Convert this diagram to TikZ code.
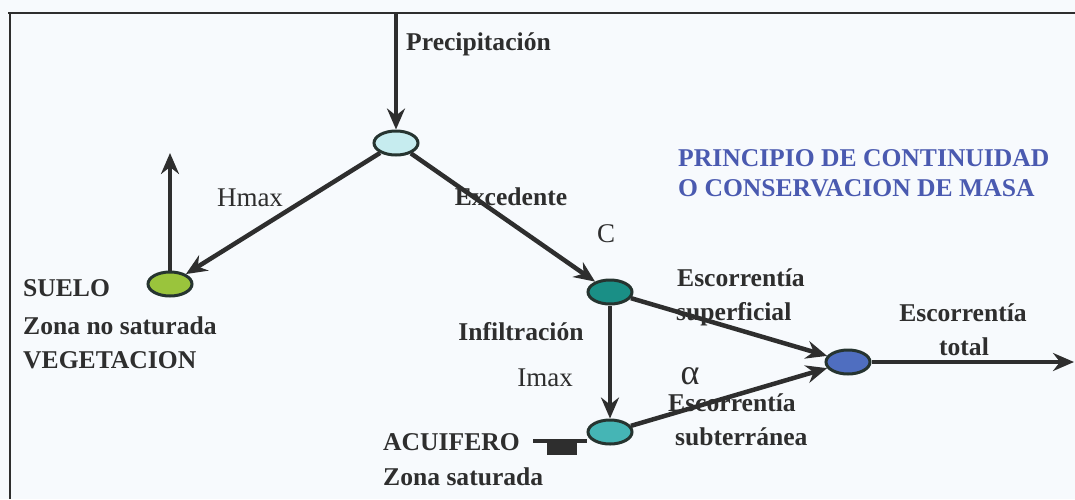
\documentclass[tikz,border=0pt]{standalone}
\usepackage{fontspec}
\setmainfont{Liberation Serif}
\usetikzlibrary{shapes.geometric,arrows.meta}
\definecolor{bgc}{HTML}{F7FAFD}
\definecolor{ink}{HTML}{2E2E2E}
\definecolor{edge}{HTML}{263430}
\definecolor{cPrec}{HTML}{C6ECEF}
\definecolor{cSuelo}{HTML}{9AC43C}
\definecolor{cC}{HTML}{1A8F86}
\definecolor{cAcu}{HTML}{45B5B5}
\definecolor{cTot}{HTML}{4F6EC0}
\definecolor{cBlue}{HTML}{4A5AB0}
\tikzset{
  x=1pt, y=-1pt,
  nodo/.style={ellipse, draw=edge, line width=3pt, minimum width=44pt, minimum height=24pt, inner sep=0pt},
  flujo/.style={draw=ink, line width=4.5pt, -{Stealth[length=21pt,width=18pt,inset=7pt]}},
  etq/.style={font=\fontsize{25.6}{30}\selectfont\bfseries, text=ink, inner sep=0pt},
  etqn/.style={font=\fontsize{27}{32}\selectfont, text=ink, inner sep=0pt},
  azul/.style={font=\fontsize{25.6}{30}\selectfont\bfseries, text=cBlue, inner sep=0pt},
}
\begin{document}
\begin{tikzpicture}
\fill[bgc] (0,0) rectangle (1075,499);
\useasboundingbox (0,0) rectangle (1075,499);
% frame
\draw[ink, line width=2.5pt] (8,13) -- (1075,13);
\draw[ink, line width=2.5pt] (10,13) -- (10,499);
% nodes
\node[nodo, fill=cPrec] (prec) at (396,143) {};
\node[nodo, fill=cSuelo] (suelo) at (170,284) {};
\node[nodo, fill=cC] (c) at (610,292) {};
\node[nodo, fill=cAcu] (acu) at (610,432) {};
\node[nodo, fill=cTot] (tot) at (848,362) {};
\coordinate (top) at (396,13);
\coordinate (evap) at (170,153);
\coordinate (out) at (1074,362);
\coordinate (bar) at (533,441);
% connectors
\draw[flujo] (top) -- (prec.north);
\draw[flujo] (prec) -- (suelo);
\draw[flujo] (suelo.north) -- (evap);
\draw[flujo] (prec) -- (c);
\draw[flujo] (c) -- (acu);
\draw[flujo] (c) -- (tot);
\draw[flujo] (acu) -- (tot);
\draw[flujo] (tot.east) -- (out);
\draw[ink, line width=4pt] (bar) -- (acu.west |- bar);
\fill[ink] (547,439) rectangle (577,455);
% labels
\node[etq, anchor=base west] (lprec) at (406,50) {Precipitación};
\node[etqn, anchor=base] (lhmax) at (250,206) {Hmax};
\node[etq, anchor=base] (lexc) at (511,205) {Excedente};
\node[etqn, anchor=base] (lc) at (606,242) {C};
\node[azul, anchor=base west] (p1) at (678,166) {PRINCIPIO DE CONTINUIDAD};
\node[azul, anchor=base west] (p2) at (678,196) {O CONSERVACION DE MASA};
\node[etq, anchor=base west] (s1) at (23,296) {SUELO};
\node[etq, anchor=base west] (s2) at (23,334) {Zona no saturada};
\node[etq, anchor=base west] (s3) at (23,368) {VEGETACION};
\node[etq, anchor=base west] (es1) at (677,286) {Escorrentía};
\node[etq, anchor=base west] (es2) at (676,320) {superficial};
\node[etq, anchor=base] (linf) at (521,340) {Infiltración};
\node[etqn, anchor=base] (limax) at (545,386) {Imax};
\node[etqn, font=\fontsize{36}{40}\selectfont, anchor=base] (lalpha) at (690,384) {α};
\node[etq, anchor=base west] (eb1) at (668,411) {Escorrentía};
\node[etq, anchor=base west] (eb2) at (675,445) {subterránea};
\node[etq, anchor=base west] (a1) at (383,450) {ACUIFERO};
\node[etq, anchor=base west] (a2) at (383,485) {Zona saturada};
\node[etq, anchor=base] (et1) at (963,321) {Escorrentía};
\node[etq, anchor=base] (et2) at (964,355) {total};
\end{tikzpicture}
\end{document}
